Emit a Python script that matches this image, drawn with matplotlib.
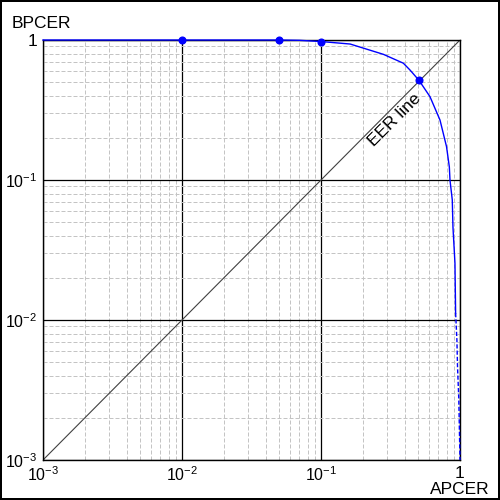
import matplotlib

matplotlib.use("Agg")

import matplotlib.pyplot as plt
from matplotlib.ticker import LogLocator, NullFormatter

plt.rcParams["font.family"] = ["Liberation Sans", "DejaVu Sans"]
plt.rcParams["mathtext.fontset"] = "custom"
plt.rcParams["mathtext.rm"] = "Liberation Sans"
plt.rcParams["mathtext.it"] = "Liberation Sans:italic"

# DET curve (APCER, BPCER)
curve_apcer = [0.001, 0.01, 0.05, 0.07, 0.1, 0.162, 0.281, 0.391, 0.437, 0.507,
               0.608, 0.718, 0.80, 0.838, 0.847, 0.88, 0.89, 0.92, 0.93]
curve_bpcer = [1.0, 1.0, 1.0, 0.995, 0.975, 0.936, 0.79, 0.683, 0.61, 0.515,
               0.394, 0.268, 0.173, 0.124, 0.1, 0.072, 0.046, 0.0254, 0.0112]
# low-BPCER tail drawn dashed
tail_apcer = [0.93, 0.95, 0.96, 0.98, 1.0]
tail_bpcer = [0.0112, 0.0072, 0.0046, 0.00275, 0.001]
# operating points
point_apcer = [0.01, 0.05, 0.1, 0.507]
point_bpcer = [1.0, 1.0, 0.975, 0.515]

ticks = [1e-3, 1e-2, 1e-1, 1]
tick_labels = [r"$10^{-3}$", r"$10^{-2}$", r"$10^{-1}$", "1"]
eer_line = [1e-3, 1]

fig = plt.figure(figsize=(5, 5), dpi=100, linewidth=1.5, edgecolor="black")
ax = fig.add_axes([0.086, 0.08, 0.834, 0.84])
ax.set_xscale("log")
ax.set_yscale("log")
ax.set_xlim(1e-3, 1)
ax.set_ylim(1e-3, 1)

ax.xaxis.set_minor_locator(LogLocator(base=10, subs=range(2, 10)))
ax.yaxis.set_minor_locator(LogLocator(base=10, subs=range(2, 10)))
ax.xaxis.set_minor_formatter(NullFormatter())
ax.yaxis.set_minor_formatter(NullFormatter())
ax.grid(True, which="minor", color="#c4c4c4", linewidth=0.72, linestyle=(0, (4, 2)))
ax.grid(True, which="major", color="black", linewidth=0.9)
ax.set_axisbelow(True)

ax.set_xticks(ticks, labels=tick_labels)
ax.set_yticks(ticks, labels=tick_labels)
ax.tick_params(which="both", length=0)
ax.tick_params(axis="x", pad=4)
ax.tick_params(axis="y", pad=4)
for lbl in ax.get_xticklabels() + ax.get_yticklabels():
    lbl.set_fontsize(12.5 if lbl.get_text() == "1" else 11.5)
for s in ax.spines.values():
    s.set_linewidth(1.0)

ax.plot(eer_line, eer_line, color="#404040", linewidth=0.8)
ax.text(0.34, 0.27, "EER line", rotation=45, fontsize=12.5,
        ha="center", va="center", rotation_mode="anchor")

ax.plot(curve_apcer, curve_bpcer, color="#0000ff", linewidth=1.0, clip_on=False, zorder=4)
ax.plot(tail_apcer, tail_bpcer, color="#0000ff", linewidth=1.0, linestyle=(0, (3, 1.5)),
        clip_on=False, zorder=4)
ax.plot(point_apcer, point_bpcer, "o", color="#0000ff", markersize=4.8, clip_on=False, zorder=5)

fig.text(0.024, 0.945, "BPCER", fontsize=12.5, ha="left", va="baseline")
fig.text(0.86, 0.012, "APCER", fontsize=12.5, ha="left", va="baseline")

fig.savefig("out.png", dpi=100)
